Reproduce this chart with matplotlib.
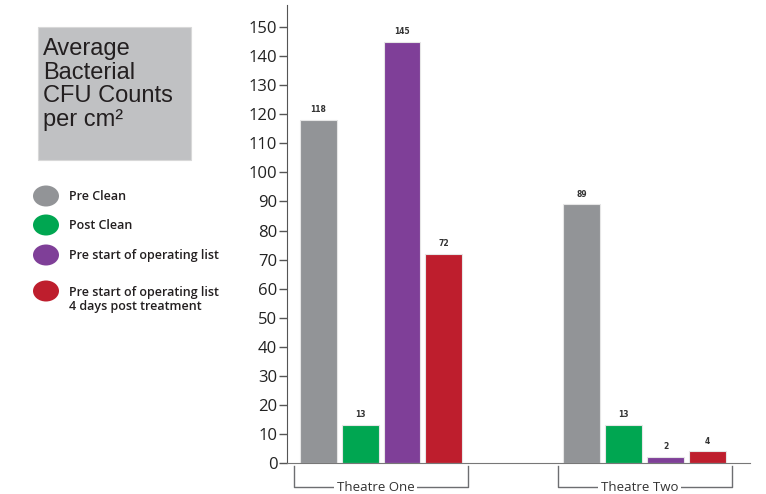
import matplotlib.pyplot as plt
from matplotlib.patches import Ellipse, Rectangle
from matplotlib.transforms import blended_transform_factory

theatres = ["Theatre One", "Theatre Two"]
series = ["Pre Clean", "Post Clean", "Pre start of operating list",
          "Pre start of operating list\n4 days post treatment"]
colors = ["#929497", "#00a651", "#7f3f98", "#be1e2d"]
pre_clean = [118, 89]
post_clean = [13, 13]
pre_list = [145, 2]
pre_list_4d = [72, 4]
yticks = list(range(0, 151, 10))

W, H = 766, 494
fig = plt.figure(figsize=(W / 100, H / 100), dpi=100)

# axes placed in pixel terms
ax = fig.add_axes([287 / W, (H - 463) / H, (750 - 287) / W, (463 - 5) / H])
ax.set_ylim(0, 157.6)
ax.set_xlim(-0.357, 1.40)

width = 0.140
step = 0.159
allvals = [pre_clean, post_clean, pre_list, pre_list_4d]
for i, vals in enumerate(allvals):
    xs = [g + (i - 1.5) * step for g in range(len(theatres))]
    bars = ax.bar(xs, vals, width=width, color=colors[i], edgecolor="#e6e6e6", linewidth=0.8)
    for b, v in zip(bars, vals):
        ax.text(b.get_x() + b.get_width() / 2, v + 2, str(v), ha="center", va="bottom",
                fontsize=5.5, fontweight="bold", color="#333333")

for s in ["top", "right"]:
    ax.spines[s].set_visible(False)
ax.spines["left"].set_color("#555555")
ax.spines["bottom"].set_color("#777777")
ax.set_xticks([])
ax.set_yticks(yticks)
ax.tick_params(axis="y", length=6, width=1, colors="#555555", labelcolor="#222222",
               labelsize=12, pad=1)
for lbl in ax.get_yticklabels():
    lbl.set_family("Open Sans")

# brackets under the groups
tr = blended_transform_factory(ax.transData, ax.transAxes)
y0, y1 = -3 / 458, -24 / 458
for g, name in enumerate(theatres):
    left, right = g - 0.33, g + 0.33
    ax.plot([left, left, right, right], [y0, y1, y1, y0], color="#6d6e71", lw=1,
            transform=tr, clip_on=False)
    ax.text(g - 0.02, y1, name, ha="center", va="center", fontsize=9.5, color="#333333",
            family="Open Sans", transform=tr,
            bbox=dict(facecolor="white", edgecolor="none", pad=2))

# title box
fig.add_artist(Rectangle((38 / W, 1 - 160 / H), (191 - 38) / W, (160 - 27) / H,
                         transform=fig.transFigure, facecolor="#c0c1c3",
                         edgecolor="#d8d8d8", lw=0.8))
fig.text(43 / W, 1 - 38 / H, "Average\nBacterial\nCFU Counts\nper cm²", ha="left", va="top",
         fontsize=17, family="Liberation Sans", color="#231f20", linespacing=1.1)

# legend
leg_y = [196, 225, 255, 291]
for yy, lab, c in zip(leg_y, series, colors):
    fig.add_artist(Ellipse((46 / W, 1 - yy / H), 26 / W, 21 / H, transform=fig.transFigure,
                           facecolor=c, edgecolor="none"))
    two = "\n" in lab
    fig.text(69 / W, 1 - (yy - 5) / H if two else 1 - yy / H, lab,
             ha="left", va="top" if two else "center",
             fontsize=9, fontweight="semibold", family="Open Sans", color="#231f20",
             linespacing=1.05)

fig.savefig("out.png", dpi=100)
